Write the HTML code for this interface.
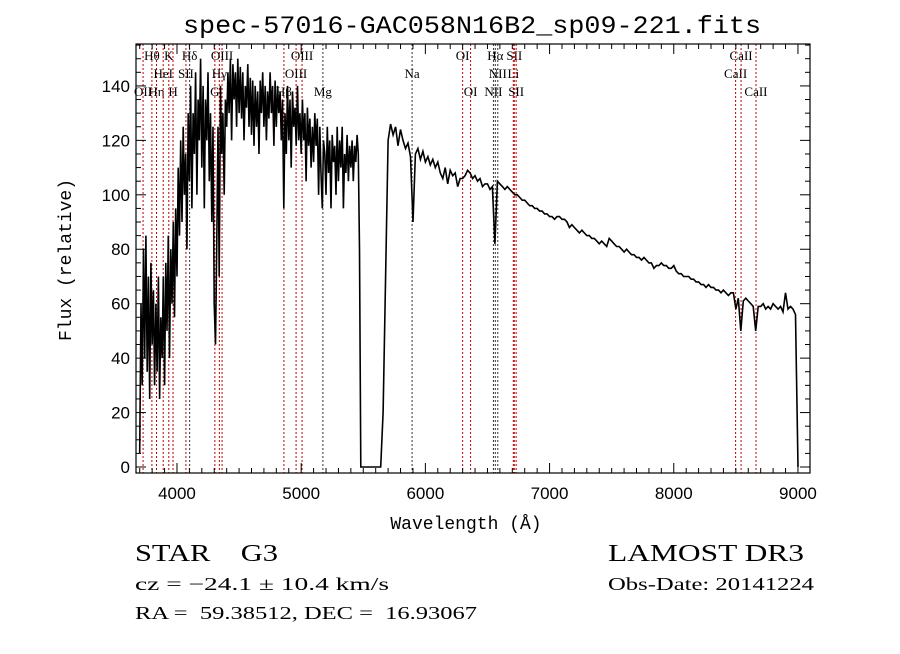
<!DOCTYPE html>
<html><head><meta charset="utf-8"><style>
body{margin:0;background:#fff;width:900px;height:649px;overflow:hidden}
svg text{fill:#000;white-space:pre}
</style></head><body>
<svg id="chart" width="900" height="649" xmlns="http://www.w3.org/2000/svg" font-family="Liberation Sans, sans-serif" xml:space="preserve">
<rect width="900" height="649" fill="#fff"/>
<text x="472" y="33" font-family="Liberation Mono, monospace" font-size="25" text-anchor="middle" textLength="578" lengthAdjust="spacingAndGlyphs">spec-57016-GAC058N16B2_sp09-221.fits</text>
<g id="lines"></g>
<g id="spec"></g>
<g id="axes"></g>
<text x="466" y="529" font-family="Liberation Mono, monospace" font-size="18" text-anchor="middle">Wavelength (Å)</text>
<text transform="translate(71,260) rotate(-90)" font-family="Liberation Mono, monospace" font-size="18" text-anchor="middle">Flux (relative)</text>
<g font-family="Liberation Serif, serif">
<text x="135" y="561" font-size="24" textLength="143" lengthAdjust="spacingAndGlyphs">STAR    G3</text>
<text x="135" y="590" font-size="18" textLength="254" lengthAdjust="spacingAndGlyphs">cz = −24.1 ± 10.4 km/s</text>
<text x="135" y="619" font-size="18" textLength="342" lengthAdjust="spacingAndGlyphs">RA =  59.38512, DEC =  16.93067</text>
<text x="608" y="561" font-size="24" textLength="196" lengthAdjust="spacingAndGlyphs">LAMOST DR3</text>
<text x="608" y="590" font-size="18" textLength="206" lengthAdjust="spacingAndGlyphs">Obs-Date: 20141224</text>
</g>
</svg>
<script>
// ---- data ----
const blueStart = 3700, blueStep = 10;
const blueFlux = [
5,60,30,80,40,85,35,70,25,75,
45,65,30,60,35,70,25,55,40,70,
30,75,50,85,40,80,60,90,55,95,
70,110,85,120,90,125,100,115,80,130,
105,140,95,130,115,145,100,135,120,150,
110,140,95,135,120,145,105,130,90,125,
60,45,80,125,70,140,115,130,100,135,
125,145,130,150,120,148,135,145,125,150,
130,147,128,145,120,140,132,148,125,143,
122,142,118,140,125,138,115,142,130,145,
125,140,120,138,128,145,130,140,118,142,
125,140,130,138,120,135,95,130,115,140,
120,135,110,138,125,132,118,140,120,130,
115,135,120,130,105,132,118,128,110,125,
112,130,118,128,100,125,108,95,120,115,
100,125,108,120,95,122,112,118,100,125,
105,120,110,125,95,115,108,122,105,118,
110,120,105,118,112,122,115,80,0,0];
const redStart = 5500, redStep = 20;
const redFlux = [
0,0,0,0,0,0,0,0,20,70,
120,126,122,125,118,124,120,117,119,114,
90,115,117,113,116,112,114,111,113,110,
112,108,106,110,104,109,107,108,103,106,
106,107,109,108,106,107,105,106,103,104,
104,102,103,82,105,104,103,102,103,102,
101,100,100,99,98,98,97,96,96,95,
95,94,94,93,93,92,92,91,92,92,
91,91,90,88,89,88,87,86,87,86,
85,85,84,84,83,82,83,82,81,84,
83,82,81,81,80,79,80,79,78,78,
77,77,76,77,76,75,75,73,74,74,
75,74,74,73,73,74,72,71,71,70,
70,70,69,69,68,68,67,67,66,67,
66,66,65,65,64,65,64,63,64,64,
58,62,50,61,62,61,60,59,50,59,
59,60,58,59,58,60,59,58,59,57,
64,58,59,58,56,0];
const lineWaves = [3727,3798,3835,3889,3934,3968,4072,4102,4305,4341,4363,4861,4959,5007,5175,5893,6300,6364,6548,6563,6583,6708,6716,6731,8498,8542,8662];
const lineNames = ["OII","Hθ","Hη","HeI","K","H","SII","Hδ","G","Hγ","OIII","Hβ","OIII","OIII","Mg","Na","OI","OI","NII","Hα","NII","Li","SII","SII","CaII","CaII","CaII"];
const lineRows = [2,0,2,1,0,2,1,0,2,1,0,2,1,0,2,1,0,2,2,0,1,1,0,2,1,0,2];
const lineBlack = [0,0,0,0,0,0,0,1,0,0,0,0,0,0,1,1,0,0,1,1,1,0,0,0,0,0,0];
const xTicks = [4000,5000,6000,7000,8000,9000];
const yTicks = [0,20,40,60,80,100,120,140];
// ---- axes ----
const X0=136,X1=810,Y0=44,Y1=473;
const wMin=3670,wMax=9097,fMin=-2.2,fMax=155.4;
const xs=w=>X0+(w-wMin)/(wMax-wMin)*(X1-X0);
const ys=f=>Y1-(f-fMin)/(fMax-fMin)*(Y1-Y0);
const NS="http://www.w3.org/2000/svg";
function mk(tag,attrs,parent){const e=document.createElementNS(NS,tag);for(const k in attrs)e.setAttribute(k,attrs[k]);parent.appendChild(e);return e;}
// spectral lines
const lg=document.getElementById('lines');
const rowY=[60,78,96];
lineWaves.forEach((w,i)=>{
  const x=xs(w);
  const l=mk('line',{x1:x,x2:x,y1:Y0,y2:Y1,stroke:lineBlack[i]?'#333':'#c00000','stroke-width':1,'stroke-dasharray':'2,2'},lg);
  
  
  const t=mk('text',{x:x,y:rowY[lineRows[i]],'font-size':13,'text-anchor':'middle','font-family':'Liberation Serif, serif'},lg);
  t.textContent=lineNames[i];
  
  
});
// spectrum
let pts=[];
blueFlux.forEach((f,i)=>{const w=blueStart+i*blueStep;pts.push([xs(w),ys(f)]);});
redFlux.forEach((f,i)=>{const w=redStart+i*redStep;pts.push([xs(w),ys(f)]);});
let d='M'+pts[0][0].toFixed(1)+','+pts[0][1].toFixed(1);
for(let i=1;i<pts.length;i++){d+=' L'+pts[i][0].toFixed(1)+','+pts[i][1].toFixed(1);}
const sp=mk('path',{d:d,fill:'none',stroke:'#000','stroke-width':1.6,'stroke-linejoin':'miter'},document.getElementById('spec'));


// axes
const ax=document.getElementById('axes');
const fr=mk('rect',{x:X0,y:Y0,width:X1-X0,height:Y1-Y0,fill:'none',stroke:'#000','stroke-width':1.2},ax);


for(let w=3700;w<=9090;w+=100){
  const x=xs(w);const maj=(w%1000===0);const L=maj?10:5;
  mk('line',{x1:x,x2:x,y1:Y1,y2:Y1-L,stroke:'#000'},ax);
  mk('line',{x1:x,x2:x,y1:Y0,y2:Y0+L,stroke:'#000'},ax);
}
xTicks.forEach(w=>{
  const t=mk('text',{x:xs(w),y:Y1+26,'font-size':17,'text-anchor':'middle'},ax);
  t.textContent=w;
  
  
});
for(let f=0;f<=155;f+=5){
  const y=ys(f);const maj=(f%20===0);const L=maj?10:5;
  mk('line',{x1:X0,x2:X0+L,y1:y,y2:y,stroke:'#000'},ax);
  mk('line',{x1:X1,x2:X1-L,y1:y,y2:y,stroke:'#000'},ax);
}
yTicks.forEach(f=>{
  const t=mk('text',{x:X0-6,y:ys(f)+6,'font-size':17,'text-anchor':'end'},ax);
  t.textContent=f;
  
  
});
</script>
</body></html>
